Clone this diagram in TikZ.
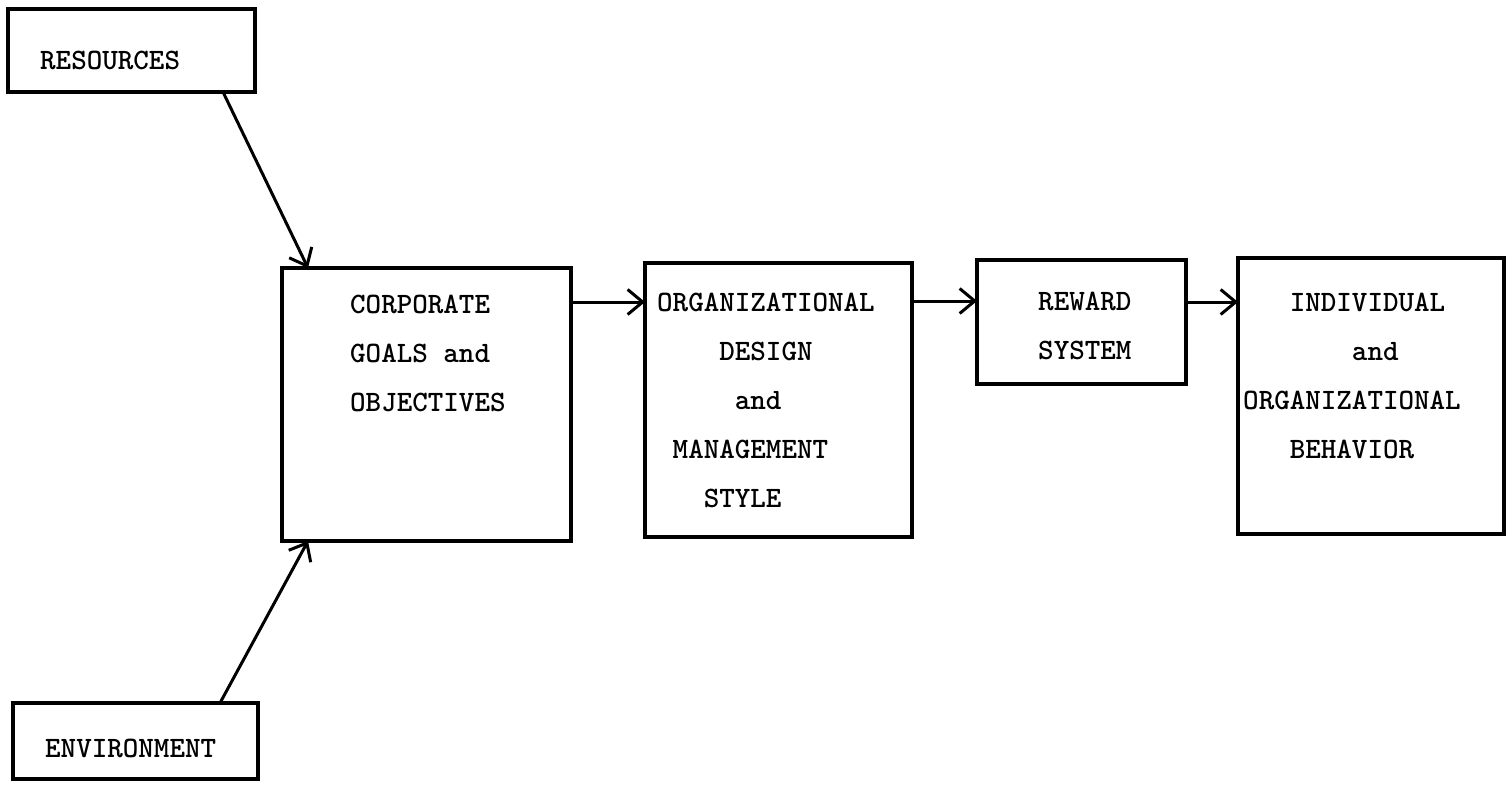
\documentclass[tikz,border=0pt]{standalone}
\usepackage{fontspec}
\usetikzlibrary{arrows.meta,calc}
\begin{document}
\begin{tikzpicture}[x=1pt,y=-1pt,
  box/.style={draw, line width=3.4pt, inner sep=0pt, outer sep=0pt, anchor=north west},
  lbl/.style={inner sep=0pt, anchor=west, align=left,
    font=\ttfamily\bfseries\fontsize{29.6}{49}\selectfont},
  arr/.style={line width=3pt, -{Straight Barb[length=15pt,width=25pt]}}]
\useasboundingbox[fill=white] (0,0) rectangle (1507,789);
% boxes
\node[box, minimum width=247pt, minimum height=83pt] (res) at (8,9) {};
\node[box, minimum width=245pt, minimum height=76pt] (env) at (13,703) {};
\node[box, minimum width=289pt, minimum height=273pt] (corp) at (282,268) {};
\node[box, minimum width=267pt, minimum height=274pt] (org) at (645,263) {};
\node[box, minimum width=209pt, minimum height=124pt] (rew) at (977,260) {};
\node[box, minimum width=266pt, minimum height=276pt] (ind) at (1238,258) {};
% labels
\node[lbl] (tres) at (40,60) {RESOURCES};
\node[lbl] (tenv) at (45,748) {ENVIRONMENT};
\node[lbl] (tcorp) at (350,353) {CORPORATE\\GOALS and\\OBJECTIVES};
\node[lbl] (torg) at (657,400) {ORGANIZATIONAL\\\phantom{XXXX}DESIGN\\\phantom{XXXXX}and\\\phantom{X}MANAGEMENT\\\phantom{XXX}STYLE};
\node[lbl] (trew) at (1038,326) {REWARD\\SYSTEM};
\node[lbl] (tind) at (1243,376) {\phantom{XXX}INDIVIDUAL\\\phantom{XXXXXXX}and\\ORGANIZATIONAL\\\phantom{XXX}BEHAVIOR};
% connectors
\draw[arr] ([xshift=-32pt]res.south east) -- ([xshift=26pt]corp.north west);
\draw[arr] ([xshift=-38pt]env.north east) -- ([xshift=26pt]corp.south west);
\draw[arr] ([yshift=-34pt]corp.north east) -- ([yshift=-34pt]corp.north east -| org.west);
\draw[arr] ([yshift=-38pt]org.north east) -- ([yshift=-38pt]org.north east -| rew.west);
\draw[arr] ([yshift=-42pt]rew.north east) -- ([yshift=-42pt]rew.north east -| ind.west);
\end{tikzpicture}
\end{document}
